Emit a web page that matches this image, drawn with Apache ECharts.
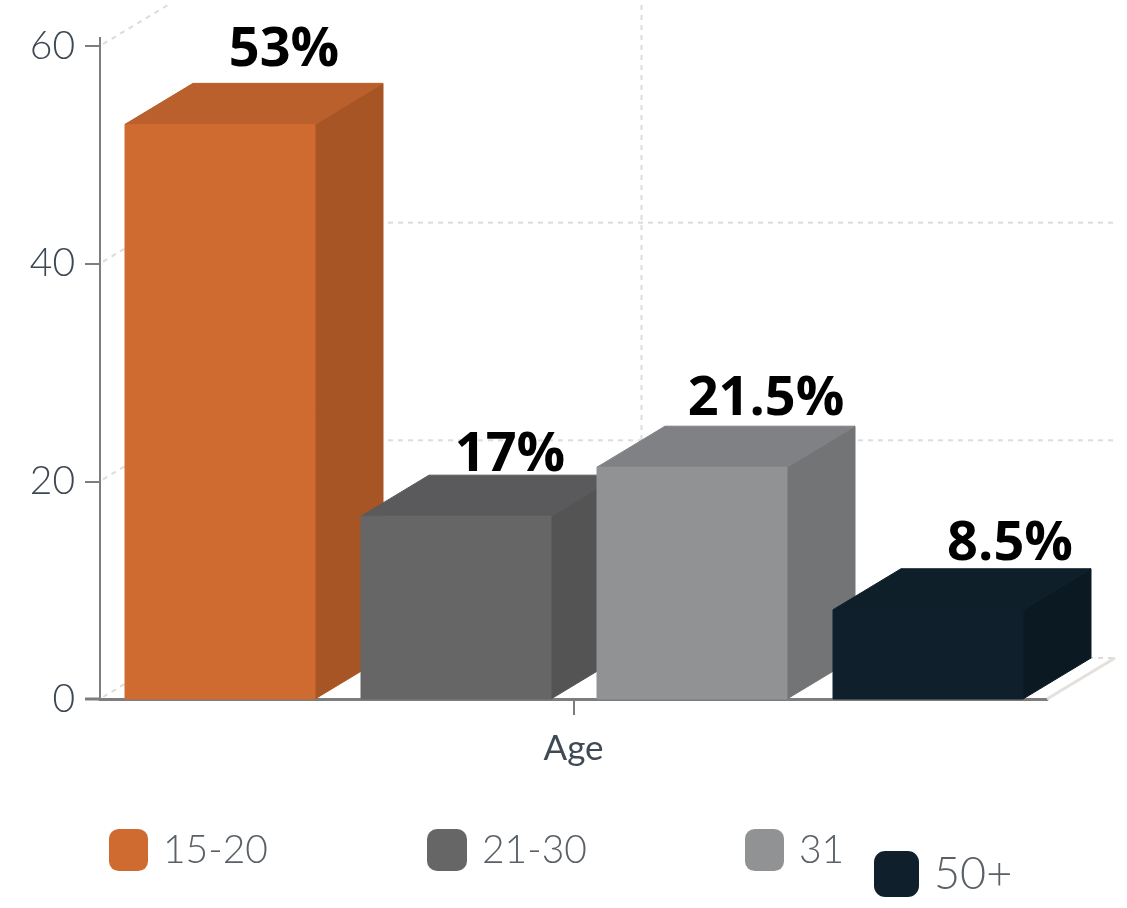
<!DOCTYPE html>
<html>
<head>
<meta charset="utf-8">
<style>
  html, body { margin: 0; background: #fff; }
  #chart { width: 1127px; height: 908px; }
</style>
<script src="https://cdn.jsdelivr.net/npm/echarts@6/dist/echarts.min.js"></script>
</head>
<body>
<div id="chart"></div>
<script>
const categories = ["Age"];
const ageGroups = ["15-20", "21-30", "31", "50+"];
const barValues = [52.8, 16.8, 21.3, 8.2];
const barLabels = ["53%", "17%", "21.5%", "8.5%"];
const yTicks = [0, 20, 40, 60];

const frontColors = ["#cf6a30", "#666666", "#909294", "#0f202c"];
const topColors = ["#b9602c", "#5a5a5c", "#808184", "#0f1f2a"];
const sideColors = ["#a85525", "#545454", "#727476", "#0b1a22"];

// depth of the fake 3d box, in px
const depthX = 68;
const depthY = 41;
const barWidth = 190;
const barStart = 25;
const barStep = 236;
// where each % label sits: from bar left, from back edge of the top
const labelDx = [159, 149, 169, 177];
const labelDy = [-6, 7, 0, 3];

const gridColor = "#dcdcdc";

function renderBox(params, api) {
  const i = params.seriesIndex - 1;
  const top = api.coord([0, api.value(1)]);
  const base = api.coord([0, 0]);
  const bandLeft = top[0] - api.size([1, 0])[0] / 2;
  const x0 = bandLeft + barStart + barStep * i;
  const x1 = x0 + barWidth;
  const y0 = top[1];
  const y1 = base[1];
  const poly = function (points, fill) {
    // stroke in the same colour hides the light seam between faces
    return { type: "polygon", shape: { points: points }, style: { fill: fill, stroke: fill, lineWidth: 1 } };
  };
  return {
    type: "group",
    children: [
      poly([[x1, y0], [x1 + depthX, y0 - depthY], [x1 + depthX, y1 - depthY], [x1, y1]], sideColors[i]),
      poly([[x0, y0], [x0 + depthX, y0 - depthY], [x1 + depthX, y0 - depthY], [x1, y0]], topColors[i]),
      poly([[x0, y0], [x1, y0], [x1, y1], [x0, y1]], frontColors[i]),
      {
        type: "text",
        z2: 10,
        style: {
          text: barLabels[i],
          x: x0 + labelDx[i],
          y: y0 - depthY + labelDy[i],
          align: "center",
          verticalAlign: "bottom",
          fill: "#000",
          font: 'bold 54px "Open Sans"',
          lineHeight: 54,
        },
      },
    ],
  };
}

// dashed back wall + floor, one item per y tick
function renderWall(params, api) {
  const value = api.value(1);
  const p = api.coord([0, value]);
  const band = api.size([1, 0])[0];
  const left = p[0] - band / 2;
  const right = p[0] + band / 2;
  const dash = { stroke: gridColor, lineWidth: 2, lineDash: [5, 5] };
  const axisStyle = { stroke: "#7d7d7d", lineWidth: 3 };
  const line = function (x1, y1, x2, y2, style) {
    return { type: "line", shape: { x1: x1, y1: y1, x2: x2, y2: y2 }, style: style };
  };
  const children = [line(left + 3, p[1] - 2, left + depthX, p[1] - depthY, dash)];
  if (value < 60) {
    children.push(line(left + depthX, p[1] - depthY, right + depthX, p[1] - depthY, dash));
  }
  if (value === 0) {
    children.push(line(right, p[1], right + depthX, p[1] - depthY, { stroke: "#e4e0dc", lineWidth: 3 }));
    const topY = api.coord([0, 60])[1];
    children.push(line(p[0] + depthX, topY - depthY, p[0] + depthX, p[1] - depthY, dash));
    // axis lines run on a little past the plot
    children.push(line(left, topY, left, topY - 9, { stroke: "#7d7d7d", lineWidth: 2 }));
    children.push(line(left - 15, p[1], left, p[1], axisStyle));
  }
  return { type: "group", children: children };
}

function makeLegend(name, left, top, w, h, size) {
  return {
    left: left,
    top: top,
    padding: 0,
    data: [name],
    icon: "roundRect",
    itemWidth: w,
    itemHeight: h,
    selectedMode: false,
    textStyle: {
      fontFamily: "Lato",
      fontWeight: 300,
      fontSize: size,
      color: "#5a6068",
      padding: [0, 0, 0, 10],
    },
  };
}

const myChart = echarts.init(document.getElementById("chart"));

const option = {
  animation: false,
  backgroundColor: "#fff",
  grid: { left: 100, right: 80, top: 46, bottom: 209 },
  legend: [
    makeLegend(ageGroups[0], 109, 829, 39, 42, 39),
    makeLegend(ageGroups[1], 427, 829, 40, 42, 39),
    makeLegend(ageGroups[2], 745, 829, 39, 42, 39),
    makeLegend(ageGroups[3], 874, 851, 45, 46, 45),
  ],
  xAxis: {
    type: "category",
    data: categories,
    axisLine: { lineStyle: { color: "#7d7d7d", width: 3 } },
    axisTick: { show: true, alignWithLabel: true, length: 16, lineStyle: { color: "#7d7d7d", width: 2 } },
    axisLabel: { color: "#3f4a56", fontFamily: "Lato", fontSize: 35, margin: 32 },
  },
  yAxis: {
    type: "value",
    min: 0,
    max: 60,
    interval: 20,
    axisLine: { show: true, lineStyle: { color: "#7d7d7d", width: 2 } },
    axisTick: { show: true, length: 15, lineStyle: { color: "#7d7d7d", width: 2 } },
    axisLabel: { color: "#3d4854", fontFamily: "Lato", fontWeight: 300, fontSize: 39, margin: 25 },
    splitLine: { show: false },
  },
  series: [
    {
      type: "custom",
      silent: true,
      z: 1,
      renderItem: renderWall,
      data: yTicks.map(function (t) { return [0, t]; }),
    },
  ].concat(
    ageGroups.map(function (name, i) {
      return {
        name: name,
        type: "custom",
        z: 3,
        renderItem: renderBox,
        itemStyle: { color: frontColors[i] },
        data: [[0, barValues[i]]],
      };
    })
  ),
};

myChart.setOption(option);
window.addEventListener("resize", function () {
  myChart.resize();
});
</script>
</body>
</html>
